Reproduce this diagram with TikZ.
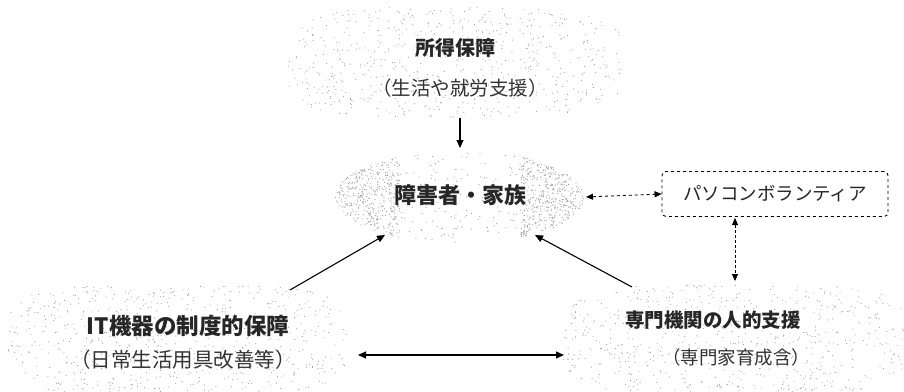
\documentclass[tikz,border=0pt]{standalone}
\usepackage{fontspec}
\newfontfamily\jp{Noto Sans CJK JP}
\usetikzlibrary{arrows.meta}
\newcommand{\stipplearea}[6]{% cx cy rx ry n color
  \foreach \i in {1,...,#5}{
    \pgfmathsetmacro\px{#1-#3+2*#3*rnd}
    \pgfmathsetmacro\py{#2-#4+2*#4*rnd}
    \pgfmathtruncatemacro\ok{((\px-#1)/#3)^4+((\py-#2)/#4)^4<1 ? 1 : 0}
    \ifnum\ok=1 \fill[#6] (\px,\py) circle (0.55); \fi
  }}
\begin{document}
\begin{tikzpicture}[x=1pt,y=-1pt,
  title/.style={font=\jp\bfseries\fontsize{#1}{22}\selectfont, text=black!85},
  title/.default=20,
  subtitle/.style={font=\jp\fontsize{#1}{20}\selectfont, text=black!80},
  subtitle/.default=19,
  solidarrow/.style={line width=1.1pt, -{Triangle[width=7pt,length=8pt]}},
  dasharrow/.style={line width=0.9pt, dashed, {Triangle[width=6pt,length=7pt]}-{Triangle[width=6pt,length=7pt]}},
  dotarrow/.style={line width=0.9pt, densely dashed, {Triangle[width=6pt,length=7pt]}-{Triangle[width=6pt,length=7pt]}},
  pcbox/.style={draw, dashed, line width=0.9pt, rounded corners=4pt, minimum width=226pt, minimum height=45pt, font=\jp\fontsize{18.5}{20}\selectfont, text=black!85}
]
\useasboundingbox (0,0) rectangle (904,391);
\fill[white] (0,0) rectangle (904,391);
\pgfmathsetseed{7}
% stippled backgrounds
\stipplearea{455}{62}{168}{55}{700}{gray!80}
\stipplearea{178}{340}{170}{55}{750}{gray!80}
\stipplearea{735}{340}{172}{55}{750}{gray!80}
% dense central blob
\foreach \i in {1,...,2800}{
  \pgfmathsetmacro\px{335+250*rnd}
  \pgfmathsetmacro\py{150+95*rnd}
  \pgfmathsetmacro\rr{rnd}
  \pgfmathtruncatemacro\ok{(((\px-460)/125)^2+((\py-197)/46)^2<1) && ((abs(\px-460)>60) || (\rr<0.12)) ? 1 : 0}
  \ifnum\ok=1 \fill[gray!75] (\px,\py) circle (0.6); \fi
}
% nodes
\node[title] (inc) at (455,48) {所得保障};
\node[subtitle=19.5] (incs) at (460,88) {（生活や就労支援）};
\node[title=22] (fam) at (460,195) {障害者・家族};
\node[pcbox] (pc) at (775,194) {パソコンボランティア};
\node[title=22.5] (it) at (188,326) {IT機器の制度的保障};
\node[subtitle=20.5] (its) at (183,360) {（日常生活用具改善等）};
\node[title=19.5] (sp) at (713,320) {専門機関の人的支援};
\node[subtitle=18.5] (sps) at (736,357) {（専門家育成含）};
% connector ends
\coordinate (incdown) at (460,118);
\coordinate (famtop) at (460,148);
\coordinate (famright) at (586,197);
\coordinate (pcleft) at (pc.west);
\coordinate (pcbot) at (735,218);
\coordinate (spup) at (735,281);
\coordinate (itcorner) at (290,290);
\coordinate (famsw) at (385,235);
\coordinate (spcorner) at (632,287);
\coordinate (famse) at (535,235);
\coordinate (itright) at (358,355);
\coordinate (spleft) at (564,355);
% connectors
\draw[solidarrow] (incdown) -- (famtop);
\draw[dasharrow] (famright) -- (pcleft);
\draw[dotarrow] (pcbot) -- (spup);
\draw[solidarrow] (itcorner) -- (famsw);
\draw[solidarrow] (spcorner) -- (famse);
\draw[line width=1.1pt, {Triangle[width=7pt,length=8pt]}-{Triangle[width=7pt,length=8pt]}] (itright) -- (spleft);
\end{tikzpicture}
\end{document}
